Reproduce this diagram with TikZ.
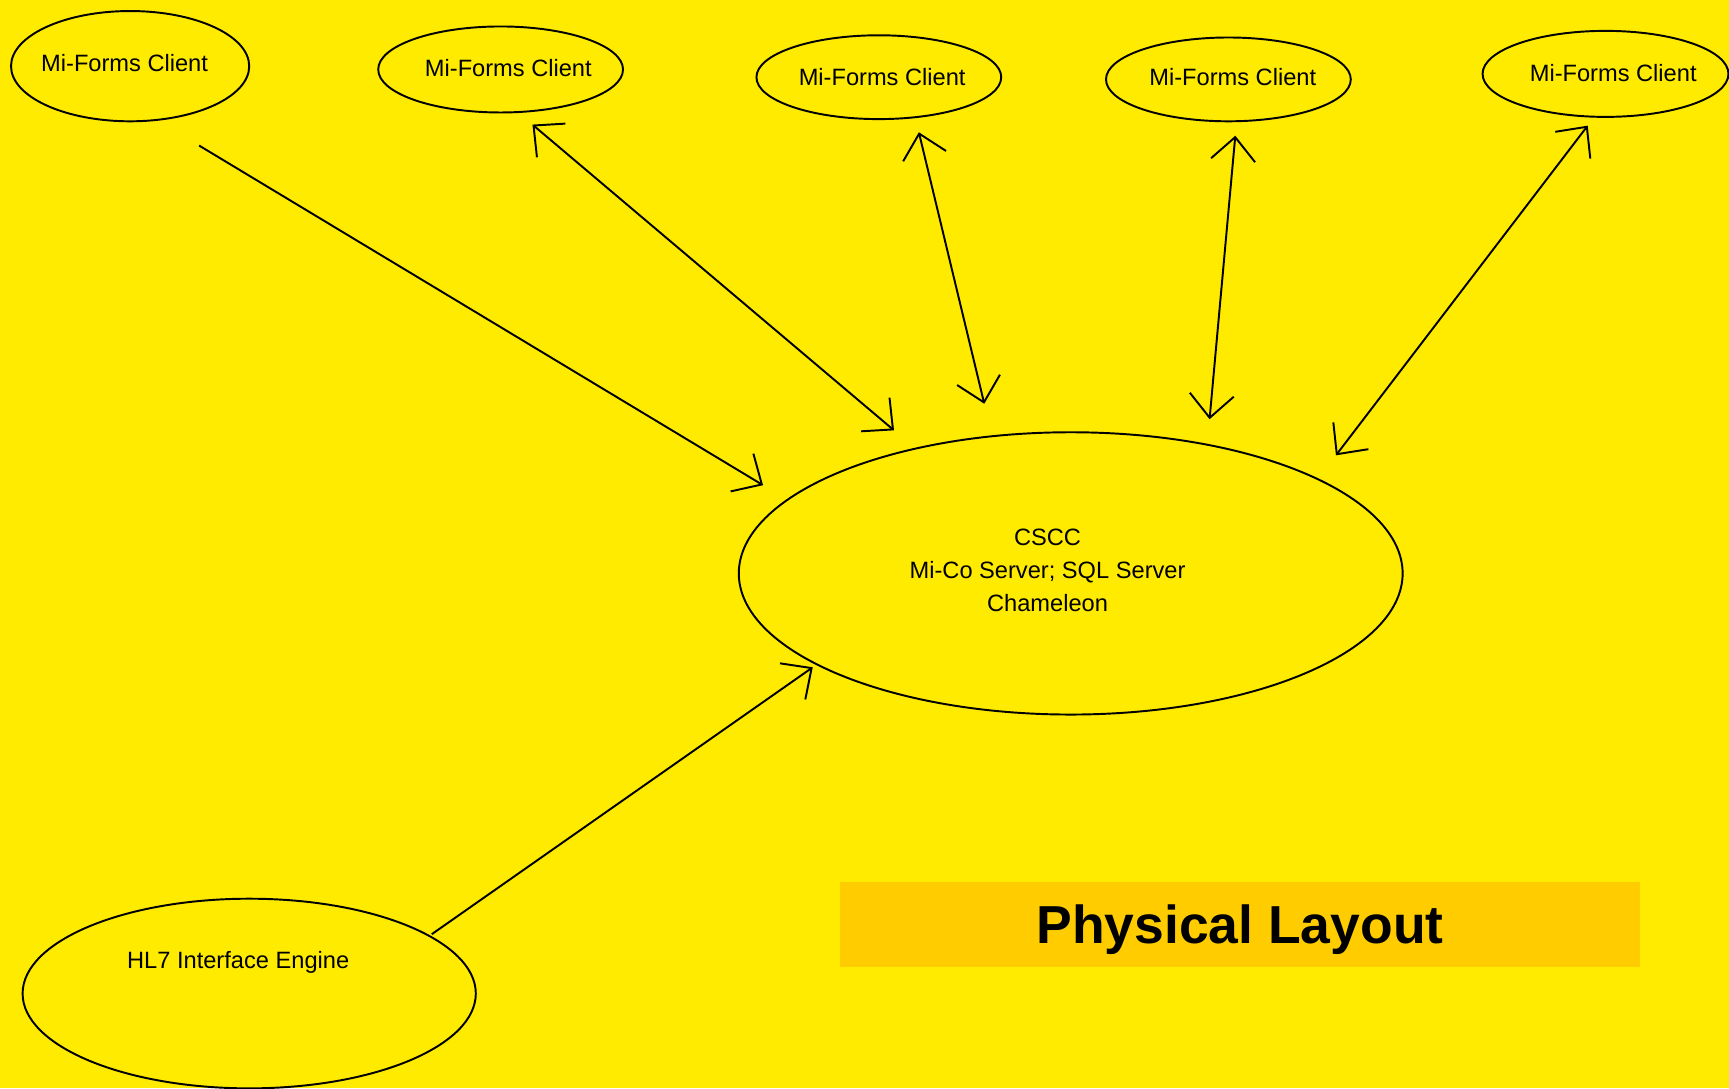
\documentclass[tikz,border=0pt]{standalone}
\usepackage{fontspec}
\setmainfont{Liberation Sans}
\usetikzlibrary{shapes.geometric,arrows.meta,calc}
\definecolor{bgyellow}{RGB}{255,235,0}
\definecolor{titlefill}{RGB}{255,204,0}
\begin{document}
\begin{tikzpicture}[
  oval/.style={ellipse, draw=black, line width=0.5pt, inner sep=0pt, outer sep=0pt},
  smalltext/.style={font=\fontsize{6.1}{8.5}\selectfont, inner sep=0pt},
  link/.style={draw=black, line width=0.5pt},
  onehead/.style={-{Straight Barb[length=2.1mm,width=4mm]}},
  twoheads/.style={{Straight Barb[length=2.1mm,width=4mm]}-{Straight Barb[length=2.1mm,width=4mm]}}
]
\fill[bgyellow] (0,0) rectangle (15.68,-9.87);
\useasboundingbox (0,0) rectangle (15.68,-9.87);

\node[oval, minimum width=2.16cm, minimum height=1.00cm,
  label={[smalltext, xshift=-0.05cm, yshift=0.03cm]center:Mi-Forms Client}] (c1) at (1.18,-0.60) {};
\node[oval, minimum width=2.22cm, minimum height=0.78cm,
  label={[smalltext, xshift=0.07cm, yshift=0.01cm]center:Mi-Forms Client}] (c2) at (4.54,-0.63) {};
\node[oval, minimum width=2.22cm, minimum height=0.76cm,
  label={[smalltext, xshift=0.03cm]center:Mi-Forms Client}] (c3) at (7.97,-0.70) {};
\node[oval, minimum width=2.22cm, minimum height=0.76cm,
  label={[smalltext, xshift=0.04cm, yshift=0.02cm]center:Mi-Forms Client}] (c4) at (11.14,-0.72) {};
\node[oval, minimum width=2.23cm, minimum height=0.78cm,
  label={[smalltext, xshift=0.07cm, yshift=0.01cm]center:Mi-Forms Client}] (c5) at (14.56,-0.67) {};

\node[oval, minimum width=6.02cm, minimum height=2.56cm,
  label={[smalltext, align=center, xshift=-0.21cm, yshift=0.03cm]center:CSCC\\Mi-Co Server; SQL Server\\Chameleon}] (cscc) at (9.71,-5.20) {};

\node[oval, minimum width=4.11cm, minimum height=1.72cm,
  label={[smalltext, xshift=-0.10cm, yshift=0.28cm]center:HL7 Interface Engine}] (hl7) at (2.26,-9.01) {};

\node[fill=titlefill, minimum width=7.25cm, minimum height=0.77cm, inner sep=0pt, text depth=0pt,
  font=\bfseries\fontsize{13.8}{16}\selectfont] (title) at (11.245,-8.385) {Physical Layout};

\draw[link, onehead] ($(c1.center)!1.552!(c1.-49)$) -- ($(cscc.center)!1.118!(cscc.164)$);
\draw[link, twoheads] ($(c2.center)!1.308!(c2.-60)$) -- ($(cscc.center)!1.145!(cscc.141)$);
\draw[link, twoheads] ($(c3.center)!1.354!(c3.-54)$) -- ($(cscc.center)!1.230!(cscc.117)$);
\draw[link, twoheads] ($(c4.center)!1.345!(c4.-83)$) -- ($(cscc.center)!1.170!(cscc.48)$);
\draw[link, twoheads] ($(c5.center)!1.213!(c5.-109)$) -- ($(cscc.center)!1.157!(cscc.24)$);
\draw[link, onehead] ($(hl7.center)!1.02!(hl7.18)$) -- ($(cscc.center)!1.023!(cscc.200)$);
\end{tikzpicture}
\end{document}
